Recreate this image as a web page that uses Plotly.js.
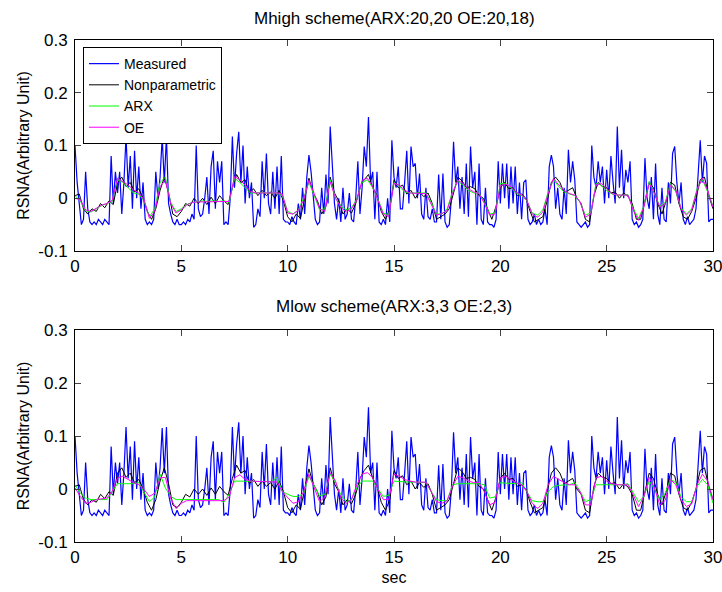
<!DOCTYPE html>
<html>
<head>
<meta charset="utf-8">
<script src="https://cdn.plot.ly/plotly-3.0.1.min.js"></script>
<style>html,body{margin:0;padding:0;background:#fff;}#chart{width:722px;height:592px;}</style>
</head>
<body>
<div id="chart"></div>
<script>
// Measured RSNA, sampled every 0.1 s (0 .. 30 s)
const measured = [
 0.10, 0.03, -0.01, -0.05, -0.04, 0.05, -0.02, -0.045, -0.05, -0.045,
 -0.05, -0.04, -0.045, -0.05, -0.04, -0.045, -0.05, 0.08, -0.01, 0.05,
 0.01, 0.05, -0.03, 0.03, 0.117, 0.02, 0.08, -0.02, 0.09, 0.0,
 0.06, -0.02, 0.03, -0.04, -0.05, -0.045, -0.05, -0.04, 0.05, 0.0,
 0.04, 0.115, 0.03, 0.117, -0.01, -0.03, -0.045, -0.05, -0.04, -0.05,
 -0.05, -0.045, -0.05, -0.04, -0.045, -0.03, -0.04, 0.1, -0.02, -0.035,
 -0.03, 0.0, 0.04, -0.03, 0.06, 0.09, -0.02, 0.07, 0.03, 0.07,
 -0.05, -0.045, -0.05, 0.0, 0.117, 0.02, 0.085, 0.126, 0.03, 0.1,
 -0.01, 0.06, 0.0, 0.03, -0.055, -0.05, -0.02, -0.035, 0.07, 0.0,
 0.085, -0.01, -0.03, 0.05, -0.02, 0.06, -0.03, 0.08, -0.04, -0.045,
 -0.045, -0.05, -0.035, -0.045, -0.05, -0.01, -0.04, 0.02, -0.03, 0.04,
 0.082, 0.05, 0.0, -0.04, -0.05, -0.045, 0.02, -0.03, 0.045, -0.01,
 0.136, 0.066, -0.01, -0.04, 0.0, -0.045, 0.02, -0.04, -0.03, 0.01,
 -0.04, -0.045, 0.0, 0.07, -0.03, 0.02, 0.098, 0.06, 0.154, 0.03,
 0.05, -0.04, 0.05, -0.045, -0.05, -0.04, -0.05, 0.0, -0.045, 0.11,
 0.04, 0.02, 0.06, -0.02, -0.02, 0.03, 0.09, -0.01, 0.098, 0.06,
 0.066, 0.0, 0.047, -0.03, -0.04, 0.02, -0.035, -0.04, -0.02, -0.045,
 -0.045, 0.045, -0.04, 0.047, -0.045, -0.055, -0.05, 0.0, 0.107, 0.03,
 0.06, -0.02, 0.04, -0.03, 0.066, -0.035, 0.098, 0.02, 0.05, -0.05,
 0.066, -0.04, -0.05, 0.02, -0.045, -0.05, -0.05, -0.055, -0.04, 0.07,
 -0.01, 0.066, 0.0, 0.066, -0.02, 0.06, -0.01, 0.06, -0.03, 0.03,
 -0.04, 0.03, 0.035, -0.04, -0.05, -0.045, -0.03, -0.05, -0.04, -0.05,
 -0.045, -0.02, -0.05, 0.06, 0.082, 0.06, -0.02, 0.02, -0.03, -0.04,
 0.02, -0.03, 0.092, 0.03, 0.07, 0.035, -0.045, -0.05, -0.055, -0.05,
 -0.045, -0.055, -0.05, 0.1, 0.04, 0.02, 0.07, 0.03, 0.06, -0.01,
 0.054, 0.0, 0.08, 0.03, -0.01, 0.136, 0.02, 0.092, 0.0, 0.054,
 0.03, 0.07, -0.04, -0.05, -0.045, -0.055, -0.05, -0.04, 0.076, 0.0,
 -0.02, 0.04, -0.04, 0.066, -0.03, -0.05, 0.02, -0.04, -0.045, 0.03,
 -0.01, 0.085, 0.098, 0.03, -0.01, 0.03, -0.04, -0.05, -0.035, -0.05,
 -0.045, -0.04, -0.02, 0.05, 0.11, 0.03, 0.08, 0.066, -0.045, -0.04,
 -0.04
];

// Nonparametric estimate, every 0.2 s
const nonparametric = [
 0.005, 0.008, -0.02, -0.03, -0.02, -0.025, -0.01, -0.018, -0.005, -0.012,
 0.03, 0.04, 0.022, 0.03, 0.012, 0.018, 0.0, -0.025, -0.04, -0.02,
 0.015, 0.04, 0.01, -0.03, -0.035, -0.025, -0.01, -0.015, 0.0, -0.01,
 0.0, -0.012, 0.002, -0.01, 0.005, -0.005, -0.012, 0.02, 0.045, 0.03,
 0.035, 0.01, 0.018, 0.005, 0.015, 0.005, 0.012, 0.0, 0.015, -0.005,
 -0.035, -0.045, -0.03, -0.038, 0.0, 0.038, 0.01, -0.005, -0.03, -0.015,
 0.04, 0.01, -0.005, -0.03, -0.02, -0.028, -0.01, 0.02, 0.035, 0.045,
 0.02, 0.005, -0.025, -0.04, -0.02, 0.035, 0.02, 0.025, 0.008, 0.015,
 0.0, 0.012, 0.003, 0.01, -0.01, -0.04, -0.035, -0.03, -0.02, 0.01,
 0.04, 0.033, 0.02, 0.022, 0.018, 0.005, 0.0, -0.02, -0.04, -0.015,
 0.02, 0.03, 0.018, 0.02, 0.005, 0.008, 0.0, -0.025, -0.045, -0.04,
 -0.035, -0.005, 0.03, 0.04, 0.03, 0.01, 0.015, 0.02, 0.0, -0.01,
 -0.04, -0.045, 0.005, 0.03, 0.022, 0.02, 0.01, 0.012, 0.0, 0.01,
 0.004, -0.01, -0.04, -0.04, -0.005, 0.03, 0.02, -0.01, -0.03, -0.005,
 0.03, 0.025, -0.01, -0.035, -0.04, -0.025, 0.0, 0.035, 0.04, 0.005,
 -0.02
];

// Model outputs, every 0.25 s
const arxHigh = [
 0.005, -0.005, -0.024, -0.026, -0.02, -0.014, -0.01, -0.006, 0.035, 0.03,
 0.02, 0.01, 0.008, -0.005, -0.035, -0.02, 0.03, 0.04, -0.008, -0.025,
 -0.02, -0.012, -0.008, -0.006, -0.005, -0.006, -0.005, -0.006, -0.005, -0.008,
 0.038, 0.03, 0.02, 0.01, 0.01, 0.011, 0.01, 0.01, 0.01, 0.005,
 -0.025, -0.03, -0.022, 0.0, 0.03, 0.005, -0.022, -0.02, 0.035, 0.0,
 -0.015, -0.022, -0.018, -0.002, 0.03, 0.035, 0.02, -0.002, -0.028, -0.032,
 0.03, 0.022, 0.012, 0.01, 0.01, 0.01, 0.01, -0.008, -0.03, -0.03,
 -0.02, 0.012, 0.032, 0.025, 0.015, 0.01, 0.01, -0.008, -0.03, -0.028,
 0.028, 0.028, 0.02, 0.01, 0.005, -0.005, -0.028, -0.032, -0.022, 0.012,
 0.035, 0.022, 0.012, 0.008, 0.005, -0.008, -0.032, -0.028, 0.028, 0.025,
 0.015, 0.008, 0.006, 0.006, 0.007, -0.02, -0.038, -0.015, 0.032, 0.008,
 -0.015, -0.008, 0.028, 0.012, -0.018, -0.03, -0.02, 0.018, 0.035, 0.012,
 -0.015
];
const oeHigh = [
 0.0, -0.003, -0.022, -0.025, -0.019, -0.013, -0.01, -0.004, 0.038, 0.032,
 0.025, 0.016, 0.01, -0.003, -0.038, -0.025, 0.022, 0.035, -0.01, -0.028,
 -0.022, -0.013, -0.008, -0.007, -0.007, -0.007, -0.006, -0.007, -0.007, -0.006,
 0.041, 0.035, 0.025, 0.013, 0.01, 0.01, 0.01, 0.009, 0.01, 0.008,
 -0.028, -0.03, -0.023, -0.004, 0.034, 0.009, -0.02, -0.025, 0.031, 0.0,
 -0.017, -0.026, -0.02, -0.004, 0.034, 0.038, 0.022, -0.004, -0.03, -0.035,
 0.028, 0.025, 0.015, 0.01, 0.009, 0.009, 0.009, -0.01, -0.032, -0.029,
 -0.023, 0.009, 0.034, 0.028, 0.018, 0.012, 0.009, -0.01, -0.032, -0.03,
 0.024, 0.027, 0.022, 0.012, 0.006, -0.004, -0.03, -0.036, -0.026, 0.009,
 0.038, 0.025, 0.015, 0.009, 0.006, -0.007, -0.036, -0.03, 0.025, 0.028,
 0.018, 0.009, 0.006, 0.006, 0.006, -0.023, -0.042, -0.017, 0.028, 0.009,
 -0.017, -0.01, 0.025, 0.015, -0.02, -0.032, -0.022, 0.015, 0.038, 0.015,
 -0.017
];
const arxLow = [
 0.008, -0.008, -0.017, -0.02, -0.02, -0.02, -0.02, -0.005, 0.01, 0.01,
 0.01, 0.01, 0.012, -0.005, -0.024, -0.015, 0.028, 0.002, -0.014, -0.02,
 -0.02, -0.02, -0.02, -0.02, -0.02, -0.02, -0.02, -0.02, -0.025, -0.01,
 0.015, 0.015, 0.015, 0.015, 0.014, 0.015, 0.015, 0.014, 0.022, -0.005,
 -0.01, -0.014, -0.014, -0.008, 0.024, 0.005, -0.013, -0.01, 0.028, 0.012,
 -0.011, -0.024, -0.02, 0.002, 0.015, 0.015, 0.015, 0.0, -0.014, -0.012,
 0.015, 0.014, 0.013, 0.013, 0.013, 0.012, 0.012, -0.005, -0.02, -0.022,
 -0.022, 0.008, 0.01, 0.01, 0.01, 0.01, 0.01, 0.008, -0.017, -0.015,
 0.012, 0.011, 0.01, 0.01, 0.012, -0.005, -0.022, -0.024, -0.024, -0.005,
 0.005, 0.007, 0.007, 0.008, 0.012, -0.004, -0.024, -0.02, 0.008, 0.008,
 0.008, 0.008, 0.008, 0.008, 0.01, -0.008, -0.024, -0.014, 0.015, 0.0,
 -0.02, -0.008, 0.018, 0.012, -0.015, -0.024, -0.024, 0.005, 0.018, 0.008,
 -0.027
];
const oeLow = [
 0.002, -0.014, -0.027, -0.025, -0.02, -0.019, -0.017, -0.004, 0.021, 0.024,
 0.018, 0.012, 0.008, -0.001, -0.014, -0.008, 0.021, 0.022, -0.018, -0.037,
 -0.027, -0.022, -0.022, -0.022, -0.022, -0.022, -0.022, -0.022, -0.022, -0.015,
 0.021, 0.027, 0.018, 0.015, 0.014, 0.014, 0.014, 0.014, 0.013, -0.005,
 -0.017, -0.027, -0.024, -0.005, 0.028, 0.002, -0.024, -0.015, 0.031, 0.015,
 -0.017, -0.027, -0.02, 0.008, 0.028, 0.031, 0.021, -0.001, -0.02, -0.02,
 0.028, 0.024, 0.018, 0.015, 0.013, 0.013, 0.013, -0.005, -0.024, -0.027,
 -0.022, 0.005, 0.024, 0.021, 0.015, 0.012, 0.012, -0.005, -0.03, -0.025,
 0.021, 0.024, 0.018, 0.012, 0.008, -0.005, -0.027, -0.037, -0.027, 0.008,
 0.024, 0.018, 0.012, 0.008, 0.008, -0.005, -0.03, -0.03, 0.021, 0.024,
 0.015, 0.01, 0.008, 0.008, 0.008, -0.011, -0.033, -0.014, 0.022, 0.002,
 -0.03, -0.022, 0.018, 0.008, -0.02, -0.033, -0.028, 0.008, 0.028, 0.015,
 -0.02
];

const titles = ["Mhigh scheme(ARX:20,20 OE:20,18)", "Mlow scheme(ARX:3,3 OE:2,3)"];
const names = ["Measured", "Nonparametric", "ARX", "OE"];
const yTickVals = [-0.1, 0, 0.1, 0.2, 0.3];
const yTickText = ["-0.1", "0", "0.1", "0.2", "0.3"];
const xTickVals = [0, 5, 10, 15, 20, 25, 30];

function grid(n, dt) { const a = []; for (let i = 0; i < n; i++) a.push(+(i * dt).toFixed(3)); return a; }
const tMeas = grid(measured.length, 0.1);
const tNp = grid(nonparametric.length, 0.2);
const tMod = grid(oeHigh.length, 0.25);

const colors = ["#0000ff", "#000000", "#00ff00", "#ff00ff"];
const traces = [];
[["x", "y", arxHigh, oeHigh, true], ["x2", "y2", arxLow, oeLow, false]].forEach(([xa, ya, arx, oe, leg]) => {
  traces.push({x: tMeas, y: measured, xaxis: xa, yaxis: ya, type: "scatter", mode: "lines",
    line: {color: colors[0], width: 1.2}, name: names[0], showlegend: leg});
  traces.push({x: tNp, y: nonparametric, xaxis: xa, yaxis: ya, type: "scatter", mode: "lines",
    line: {color: colors[1], width: 1}, name: names[1], showlegend: leg});
  traces.push({x: tMod, y: arx, xaxis: xa, yaxis: ya, type: "scatter", mode: "lines",
    line: {color: colors[2], width: 1}, name: names[2], showlegend: leg});
  traces.push({x: tMod, y: oe, xaxis: xa, yaxis: ya, type: "scatter", mode: "lines",
    line: {color: colors[3], width: 1}, name: names[3], showlegend: leg});
});

const font = {family: "Liberation Sans, Arial, sans-serif", size: 17, color: "#000"};
const titleFont = {family: "Liberation Sans, Arial, sans-serif", size: 17, color: "#000"};
function xaxis(anchor, withTitle) {
  const a = {domain: [0, 1], anchor: anchor, range: [0, 30], tickvals: xTickVals, ticks: "inside", ticklen: 6,
    showline: true, linecolor: "#000", linewidth: 1, mirror: "ticks", showgrid: false, zeroline: false,
    tickfont: font, ticklabeloverflow: "allow"};
  if (withTitle) a.title = {text: "sec", font: {family: font.family, size: 16, color: "#000"}, standoff: 5};
  return a;
}
function yaxis(domain, anchor) {
  return {domain: domain, anchor: anchor, range: [-0.1, 0.3], tickvals: yTickVals, ticktext: yTickText,
    ticks: "inside", ticklen: 6, showline: true, linecolor: "#000", linewidth: 1, mirror: "ticks",
    showgrid: false, zeroline: false, tickfont: font, ticklabelstandoff: 3, ticklabeloverflow: "allow",
    title: {text: "RSNA(Arbitrary Unit)", font: {family: font.family, size: 16, color: "#000"}, standoff: 4}};
}

const layout = {
  width: 722, height: 592,
  margin: {l: 75, r: 9, t: 40, b: 50},
  paper_bgcolor: "#fff", plot_bgcolor: "#fff",
  font: font,
  xaxis: xaxis("y", false),
  yaxis: yaxis([0.5797, 1], "x"),
  xaxis2: xaxis("y2", true),
  yaxis2: yaxis([0, 0.4223], "x2"),
  legend: {x: 0.0125, y: 0.986, xanchor: "left", yanchor: "top", bordercolor: "#000", borderwidth: 1,
    bgcolor: "#fff", font: {family: font.family, size: 14, color: "#000"}, tracegroupgap: 0},
  annotations: [
    {text: titles[0], xref: "paper", yref: "paper", x: 0.5, y: 1, yshift: 22, showarrow: false, font: titleFont, xanchor: "center", yanchor: "middle"},
    {text: titles[1], xref: "paper", yref: "paper", x: 0.5, y: 0.4223, yshift: 24, showarrow: false, font: titleFont, xanchor: "center", yanchor: "middle"}
  ],
  showlegend: true
};

Plotly.newPlot("chart", traces, layout, {displayModeBar: false, staticPlot: true});
</script>
</body>
</html>
